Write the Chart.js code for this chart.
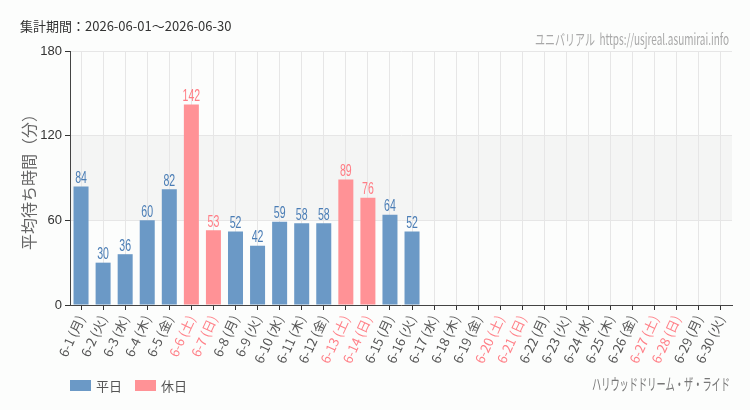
<!DOCTYPE html>
<html><head><meta charset="utf-8">
<script src="https://cdn.jsdelivr.net/npm/chart.js@4"></script>
<style>
html,body{margin:0;padding:0;background:#fcfdfc;}
#wrap{position:relative;width:750px;height:410px;}
</style></head>
<body><div id="wrap"><canvas id="c" width="750" height="410"></canvas></div>
<script>
const dates = ["6-1 (月)","6-2 (火)","6-3 (水)","6-4 (木)","6-5 (金)","6-6 (土)","6-7 (日)","6-8 (月)","6-9 (火)","6-10 (水)","6-11 (木)","6-12 (金)","6-13 (土)","6-14 (日)","6-15 (月)","6-16 (火)","6-17 (水)","6-18 (木)","6-19 (金)","6-20 (土)","6-21 (日)","6-22 (月)","6-23 (火)","6-24 (水)","6-25 (木)","6-26 (金)","6-27 (土)","6-28 (日)","6-29 (月)","6-30 (火)"];
const isHoliday = [0,0,0,0,0,1,1,0,0,0,0,0,1,1,0,0,0,0,0,1,1,0,0,0,0,0,1,1,0,0];
const weekdayValues = [84,30,36,60,82,null,null,52,42,59,58,58,null,null,64,52,null,null,null,null,null,null,null,null,null,null,null,null,null,null];
const holidayValues = [null,null,null,null,null,142,53,null,null,null,null,null,89,76,null,null,null,null,null,null,null,null,null,null,null,null,null,null,null,null];
const yTicks = [0,60,120,180];
const titleText = "集計期間：2026-06-01～2026-06-30";
const sourceText = "ユニバリアル  https://usjreal.asumirai.info";
const rideText = "ハリウッドドリーム・ザ・ライド";
const legendLabels = ["平日","休日"];

const BLUE = "#6b99c6", RED = "#ff9296";
const BLUE_T = "#4a7db5", RED_T = "#ff7c84";

function narrowText(ctx, text, x, y, font, color, align, targetW, scale){
  ctx.save();
  ctx.font = font; ctx.fillStyle = color; ctx.textBaseline = "middle";
  const w = ctx.measureText(text).width;
  const s = targetW ? targetW / w : scale;
  ctx.translate(x, y); ctx.scale(s, 1);
  ctx.textAlign = align;
  ctx.fillText(text, 0, 0);
  ctx.restore();
}

const deco = {
  id: "deco",
  beforeDraw(chart){
    const {ctx, chartArea:a, scales:{y}} = chart;
    ctx.save();
    ctx.fillStyle = "#f4f5f4";
    const t = y.getPixelForValue(120), b = y.getPixelForValue(60);
    ctx.fillRect(a.left, t, a.right - a.left, b - t);
    ctx.restore();
  },
  afterDatasetsDraw(chart){
    const ctx = chart.ctx;
    chart.data.datasets.forEach((ds, di) => {
      const meta = chart.getDatasetMeta(di);
      meta.data.forEach((bar, i) => {
        const v = ds.data[i];
        if (v == null) return;
        narrowText(ctx, String(v), bar.x, bar.y - 8, "17px 'Liberation Sans', Arial", di === 0 ? BLUE_T : RED_T, "center", null, 0.62);
      });
    });
  },
  afterDraw(chart){
    const ctx = chart.ctx;
    ctx.save();
    ctx.font = "13px 'Noto Sans CJK JP', sans-serif";
    ctx.fillStyle = "#333"; ctx.textBaseline = "middle"; ctx.textAlign = "left";
    ctx.fillText(titleText, 20, 26);
    ctx.restore();
    narrowText(ctx, sourceText, 729, 39, "15px 'Noto Sans CJK JP', sans-serif", "#a8a8a8", "right", 194);
    narrowText(ctx, rideText, 730, 384, "16px 'Noto Sans CJK JP', sans-serif", "#777", "right", 138);
    // legend
    ctx.save();
    ctx.fillStyle = BLUE; ctx.fillRect(70, 380, 21, 11);
    ctx.fillStyle = RED; ctx.fillRect(135, 380, 21, 11);
    ctx.font = "13px 'Noto Sans CJK JP', sans-serif";
    ctx.fillStyle = "#555"; ctx.textBaseline = "middle"; ctx.textAlign = "left";
    ctx.fillText(legendLabels[0], 96, 386);
    ctx.fillText(legendLabels[1], 161, 386);
    ctx.restore();
  }
};

new Chart(document.getElementById("c"), {
  type: "bar",
  data: {
    labels: dates,
    datasets: [
      {label: legendLabels[0], data: weekdayValues, backgroundColor: BLUE, barPercentage: 0.68, categoryPercentage: 1},
      {label: legendLabels[1], data: holidayValues, backgroundColor: RED, barPercentage: 0.68, categoryPercentage: 1}
    ]
  },
  plugins: [deco],
  options: {
    responsive: false, animation: false,
    layout: {padding: {left: 0, top: 51, right: 18, bottom: 0}},
    plugins: {legend: {display: false}, tooltip: {enabled: false}},
    scales: {
      x: {
        stacked: true,
        offset: true,
        grid: {offset: false, color: "#e6e6e6", tickColor: "#333", tickLength: 5},
        border: {color: "#444"},
        ticks: {
          minRotation: 65, maxRotation: 65, autoSkip: false, padding: 3,
          font: {size: 13, family: "'Noto Sans CJK JP', sans-serif"},
          color: (c) => isHoliday[c.index] ? "#ff8088" : "#555"
        },
        afterFit(s){ s.height = 105; }
      },
      y: {
        stacked: true,
        min: 0, max: 180,
        afterBuildTicks(s){ s.ticks = yTicks.map(v => ({value: v})); },
        grid: {color: "#e6e6e6", tickColor: "#333", tickLength: 5},
        border: {color: "#444"},
        ticks: {padding: 3, color: "#333", font: {size: 13, family: "'Liberation Sans', Arial"}},
        title: {display: true, text: "平均待ち時間（分）", color: "#666", font: {size: 16, family: "'Noto Sans CJK JP', sans-serif"}, padding: {top: 19}},
        afterFit(s){ s.width = 70; }
      }
    }
  }
});
</script></body></html>
